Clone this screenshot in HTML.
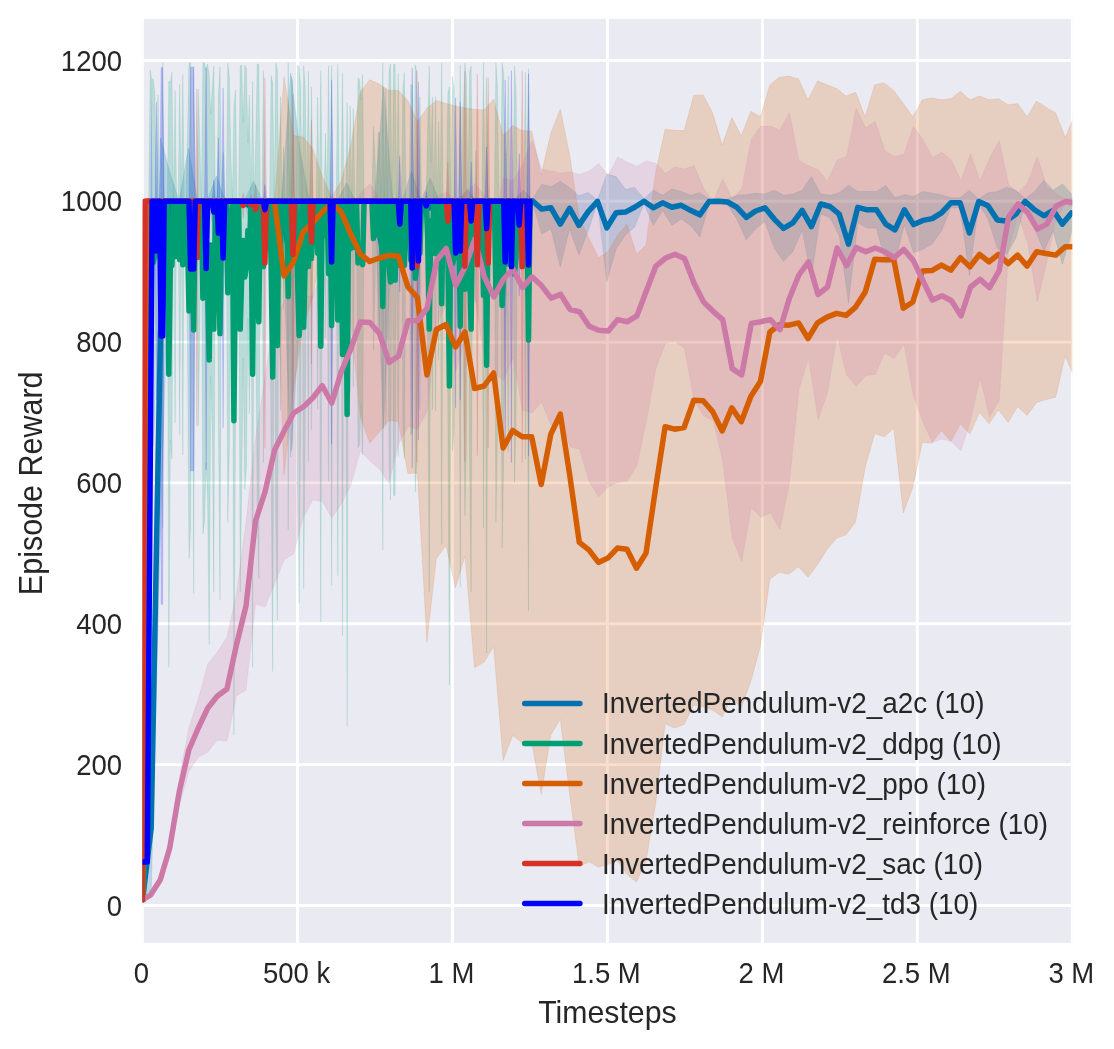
<!DOCTYPE html>
<html lang="en"><head><meta charset="utf-8"><title>InvertedPendulum-v2 Episode Reward</title>
<style>html,body{margin:0;padding:0;background:#fff}svg{display:block}text{font-family:"Liberation Sans",sans-serif;fill:#262626}</style></head><body>
<svg width="1114" height="1049" viewBox="0 0 1114 1049">
<rect width="1114" height="1049" fill="#ffffff"/>
<defs><clipPath id="ax"><rect x="142.5" y="18.9" width="929.8" height="924.0"/></clipPath></defs>
<rect x="142.5" y="18.9" width="929.8" height="924.0" fill="#eaeaf2"/>
<g stroke="#ffffff" stroke-width="2.9" clip-path="url(#ax)"><line x1="142.5" y1="18.9" x2="142.5" y2="942.9"/><line x1="297.5" y1="18.9" x2="297.5" y2="942.9"/><line x1="452.4" y1="18.9" x2="452.4" y2="942.9"/><line x1="607.4" y1="18.9" x2="607.4" y2="942.9"/><line x1="762.4" y1="18.9" x2="762.4" y2="942.9"/><line x1="917.3" y1="18.9" x2="917.3" y2="942.9"/><line x1="1072.3" y1="18.9" x2="1072.3" y2="942.9"/><line x1="142.5" y1="905.5" x2="1072.3" y2="905.5"/><line x1="142.5" y1="764.6" x2="1072.3" y2="764.6"/><line x1="142.5" y1="623.8" x2="1072.3" y2="623.8"/><line x1="142.5" y1="482.9" x2="1072.3" y2="482.9"/><line x1="142.5" y1="342.1" x2="1072.3" y2="342.1"/><line x1="142.5" y1="201.2" x2="1072.3" y2="201.2"/><line x1="142.5" y1="60.4" x2="1072.3" y2="60.4"/></g>
<g clip-path="url(#ax)">
<polygon points="142.5,899.8 151.2,750.0 160.5,138.0 169.8,172.0 179.1,201.3 188.4,148.0 197.7,201.3 207.0,201.3 216.3,176.0 225.6,201.3 234.9,201.3 244.2,201.3 253.5,181.0 262.8,201.3 272.1,201.3 281.4,201.3 290.7,73.0 300.0,150.0 309.3,201.3 318.6,201.3 327.9,201.3 337.2,201.3 346.5,183.0 355.8,201.3 365.1,201.3 374.4,201.3 383.6,87.0 392.9,201.3 402.2,201.3 411.5,171.0 420.8,201.3 430.1,178.0 439.4,201.3 448.7,201.3 458.0,201.3 467.3,189.0 476.6,201.3 485.9,201.3 495.2,201.3 504.5,201.3 513.8,201.3 523.1,190.0 532.4,199.0 541.7,184.2 551.0,186.7 560.3,181.2 569.6,187.6 578.9,195.8 588.2,192.5 597.5,199.9 606.8,174.1 616.1,176.6 625.4,189.2 634.7,187.6 644.0,198.8 653.3,190.0 662.6,195.2 671.9,189.0 681.2,191.5 690.5,195.2 699.8,192.7 709.1,199.0 718.4,199.0 727.7,199.0 737.0,195.2 746.3,194.7 755.6,193.2 764.9,194.0 774.2,190.2 783.5,195.2 792.8,194.0 802.1,190.2 811.4,176.4 820.7,194.0 830.0,195.2 839.2,192.7 848.5,185.2 857.8,191.5 867.1,191.5 876.4,191.5 885.7,185.2 895.0,197.8 904.3,194.7 913.6,196.5 922.9,191.5 932.2,193.2 941.5,194.7 950.8,197.8 960.1,197.8 969.4,190.2 978.7,199.0 988.0,192.7 997.3,191.5 1006.6,187.2 1015.9,190.2 1025.2,199.0 1034.5,191.5 1043.8,180.2 1053.1,190.2 1062.4,183.9 1071.7,194.0 1071.7,231.6 1062.4,264.3 1053.1,230.4 1043.8,251.4 1034.5,228.1 1025.2,204.0 1015.9,238.0 1006.6,254.6 997.3,248.3 988.0,218.9 978.7,204.0 969.4,275.6 960.1,207.8 950.8,207.8 941.5,230.9 932.2,244.0 922.9,249.3 913.6,252.7 904.3,224.9 895.0,262.0 885.7,263.0 876.4,228.1 867.1,228.1 857.8,223.1 848.5,303.2 839.2,235.5 830.0,217.8 820.7,214.0 811.4,277.0 802.1,230.4 792.8,251.8 783.5,261.6 774.2,248.0 764.9,221.6 755.6,228.8 746.3,240.1 737.0,219.4 727.7,205.0 718.4,203.6 709.1,204.0 699.8,236.9 690.5,225.4 681.2,219.1 671.9,225.6 662.6,210.4 653.3,225.6 644.0,203.8 634.7,227.0 625.4,235.0 616.1,249.0 606.8,281.7 597.5,202.7 588.2,230.7 578.9,255.0 569.6,229.0 560.3,267.0 551.0,228.9 541.7,234.0 532.4,202.6 523.1,218.0 513.8,201.3 504.5,201.3 495.2,201.3 485.9,201.3 476.6,201.3 467.3,221.0 458.0,201.3 448.7,201.3 439.4,201.3 430.1,238.0 420.8,201.3 411.5,249.0 402.2,201.3 392.9,201.3 383.6,429.0 374.4,201.3 365.1,201.3 355.8,201.3 346.5,235.0 337.2,201.3 327.9,201.3 318.6,201.3 309.3,201.3 300.0,316.0 290.7,457.0 281.4,201.3 272.1,201.3 262.8,201.3 253.5,239.0 244.2,201.3 234.9,201.3 225.6,201.3 216.3,238.0 207.0,201.3 197.7,201.3 188.4,280.0 179.1,201.3 169.8,230.6 160.5,528.0 151.2,893.0 142.5,899.8" fill="#0072b2" fill-opacity="0.20" stroke="#0072b2" stroke-opacity="0.20" stroke-width="0.6"/>
<polygon points="143.4,899.8 148.0,201.3 148.7,201.2 150.2,70.0 151.8,80.1 153.3,78.9 154.9,94.1 156.4,201.2 158.0,95.0 159.6,201.2 161.1,201.2 162.7,62.8 164.2,201.2 167.3,201.2 168.8,81.3 170.4,81.9 171.9,72.4 173.5,201.2 175.1,90.5 176.6,201.2 178.2,201.2 179.7,84.5 181.2,201.2 182.8,74.4 184.3,201.2 185.9,201.2 187.4,134.5 189.0,63.2 190.6,62.7 192.1,201.2 193.7,66.3 195.2,201.2 196.8,201.2 198.3,89.1 199.8,138.1 201.4,201.2 202.9,62.7 204.5,62.9 206.1,70.4 207.6,64.1 209.2,75.3 210.7,113.9 212.2,87.8 213.8,66.1 215.4,201.2 216.9,201.2 218.4,94.7 220.0,67.1 221.6,201.2 223.1,152.4 224.7,201.2 226.2,201.2 227.8,62.9 229.3,75.8 230.9,156.3 232.4,201.2 233.9,106.7 235.5,89.7 237.1,201.2 238.6,201.2 240.2,66.1 241.7,65.0 243.2,122.7 244.8,65.0 246.4,68.8 247.9,142.7 249.4,95.0 251.0,201.2 252.6,81.3 254.1,201.2 255.7,140.0 257.2,63.8 258.8,64.7 260.3,201.2 261.9,201.2 263.4,70.5 264.9,201.2 269.6,201.2 271.1,75.6 272.7,82.6 274.2,201.2 275.8,62.8 277.4,70.3 278.9,201.2 280.5,96.6 282.0,201.2 283.6,147.3 285.1,201.2 286.6,201.2 288.2,62.7 289.8,201.2 291.3,76.1 292.9,81.0 294.4,201.2 296.0,201.2 297.5,65.0 299.1,67.5 300.6,84.4 302.1,201.2 303.7,65.7 305.2,86.7 306.8,201.2 308.4,71.0 309.9,201.2 311.5,86.9 313.0,201.2 316.1,201.2 317.6,97.2 319.2,201.2 320.8,70.6 322.3,201.2 323.9,201.2 325.4,132.9 327.0,201.2 328.5,65.8 330.1,201.2 331.6,65.3 333.1,201.2 336.2,201.2 337.8,64.4 339.4,201.2 340.9,201.2 342.5,73.3 344.0,201.2 345.6,201.2 347.1,102.7 348.6,201.2 350.2,106.1 351.8,201.2 353.3,108.5 354.9,201.2 356.4,201.2 358.0,77.9 359.5,79.5 361.1,100.2 362.6,74.4 364.1,201.2 371.9,201.2 373.5,126.6 375.0,158.4 376.6,201.2 378.1,133.0 379.6,131.9 381.2,201.2 382.8,62.9 384.3,201.2 385.9,88.7 387.4,201.2 389.0,70.6 390.5,64.0 392.1,201.2 393.6,64.4 395.1,64.4 396.7,201.2 398.2,73.6 399.8,201.2 401.4,201.2 402.9,88.3 404.4,72.6 406.0,201.2 409.1,201.2 410.7,84.2 412.2,85.3 413.8,201.2 415.3,64.7 416.9,72.6 418.4,201.2 419.9,96.8 421.5,201.2 426.2,201.2 427.7,127.2 429.2,66.1 430.8,162.5 432.4,97.0 433.9,201.2 435.4,96.3 437.0,201.2 438.6,121.8 440.1,201.2 441.7,62.8 443.2,201.2 446.3,201.2 447.9,92.4 449.4,86.9 450.9,201.2 452.5,76.3 454.1,87.4 455.6,201.2 458.7,201.2 460.2,65.5 461.8,201.2 463.4,105.8 464.9,63.1 466.4,79.0 468.0,201.2 469.6,71.4 471.1,66.1 472.7,201.2 474.2,201.2 475.8,150.6 477.3,201.2 481.9,201.2 483.5,62.7 485.1,201.2 486.6,77.5 488.2,201.2 494.4,201.2 495.9,62.9 497.4,84.5 499.0,201.2 500.6,201.2 502.1,62.8 503.7,73.5 505.2,152.7 506.8,154.8 508.3,76.0 509.9,201.2 513.0,201.2 514.5,65.7 516.0,89.0 517.6,201.2 523.8,201.2 525.4,72.4 526.9,201.2 528.5,68.7 530.0,201.2 530.0,201.2 528.5,611.1 526.9,201.2 525.4,459.0 523.8,201.2 517.6,201.2 516.0,425.7 514.5,482.4 513.0,201.2 509.9,201.2 508.3,451.7 506.8,294.2 505.2,298.4 503.7,456.8 502.1,548.2 500.6,201.2 499.0,201.2 497.4,434.7 495.9,522.2 494.4,201.2 488.2,201.2 486.6,653.1 485.1,201.2 483.5,528.3 481.9,201.2 477.3,201.2 475.8,302.5 474.2,201.2 472.7,201.2 471.1,592.1 469.6,461.0 468.0,201.2 466.4,445.8 464.9,515.6 463.4,392.2 461.8,201.2 460.2,587.1 458.7,201.2 455.6,201.2 454.1,429.0 452.5,451.1 450.9,201.2 449.4,685.1 447.9,419.0 446.3,201.2 443.2,201.2 441.7,544.6 440.1,201.2 438.6,360.1 437.0,201.2 435.4,411.1 433.9,201.2 432.4,409.7 430.8,278.7 429.2,592.1 427.7,349.3 426.2,201.2 421.5,201.2 419.9,410.1 418.4,201.2 416.9,458.6 415.3,491.9 413.8,201.2 412.2,433.1 410.7,435.3 409.1,201.2 406.0,201.2 404.4,458.5 402.9,427.2 401.4,201.2 399.8,201.2 398.2,456.6 396.7,201.2 395.1,495.8 393.6,495.3 392.1,201.2 390.5,500.0 389.0,462.6 387.4,201.2 385.9,426.3 384.3,201.2 382.8,549.9 381.2,201.2 379.6,339.9 378.1,337.8 376.6,201.2 375.0,287.0 373.5,350.6 371.9,201.2 364.1,201.2 362.6,455.0 361.1,403.4 359.5,444.8 358.0,447.8 356.4,201.2 354.9,201.2 353.3,386.8 351.8,201.2 350.2,391.6 348.6,201.2 347.1,726.3 345.6,201.2 344.0,201.2 342.5,635.5 340.9,201.2 339.4,201.2 337.8,575.6 336.2,201.2 333.1,201.2 331.6,585.5 330.1,201.2 328.5,481.8 327.0,201.2 325.4,338.0 323.9,201.2 322.3,201.2 320.8,622.0 319.2,201.2 317.6,409.3 316.1,201.2 313.0,201.2 311.5,429.8 309.9,201.2 308.4,461.7 306.8,201.2 305.2,430.4 303.7,588.7 302.1,201.2 300.6,435.0 299.1,603.3 297.5,488.8 296.0,201.2 294.4,201.2 292.9,441.8 291.3,451.5 289.8,201.2 288.2,530.1 286.6,201.2 285.1,201.2 283.6,309.1 282.0,201.2 280.5,410.6 278.9,201.2 277.4,620.5 275.8,523.5 274.2,201.2 272.7,671.6 271.1,452.6 269.6,201.2 264.9,201.2 263.4,462.8 261.9,201.2 260.3,201.2 258.8,578.9 257.2,503.4 255.7,323.8 254.1,201.2 252.6,667.3 251.0,201.2 249.4,413.7 247.9,318.4 246.4,466.2 244.8,489.3 243.2,358.4 241.7,489.1 240.2,592.1 238.6,201.2 237.1,201.2 235.5,424.4 233.9,734.9 232.4,201.2 230.9,291.2 229.3,452.2 227.8,522.7 226.2,201.2 224.7,201.2 223.1,299.0 221.6,201.2 220.0,600.1 218.4,414.3 216.9,201.2 215.4,201.2 213.8,592.1 212.2,428.2 210.7,375.9 209.2,644.5 207.6,499.0 206.1,462.9 204.5,521.8 202.9,533.9 201.4,201.2 199.8,327.5 198.3,425.6 196.8,201.2 195.2,201.2 193.7,593.7 192.1,201.2 190.6,529.1 189.0,558.6 187.4,334.8 185.9,201.2 184.3,201.2 182.8,455.0 181.2,201.2 179.7,434.7 178.2,201.2 176.6,201.2 175.1,422.8 173.5,201.2 171.9,459.0 170.4,440.0 168.8,667.3 167.3,201.2 164.2,201.2 162.7,527.5 161.1,201.2 159.6,201.2 158.0,413.7 156.4,201.2 154.9,415.4 153.3,446.0 151.8,443.5 150.2,463.7 148.7,201.2 148.0,201.3 143.4,899.8" fill="#009e73" fill-opacity="0.20" stroke="#009e73" stroke-opacity="0.20" stroke-width="0.6"/>
<polygon points="142.5,899.8 146.6,201.3 150.6,201.3 160.2,201.3 169.7,201.3 179.2,201.3 188.7,201.3 198.3,201.3 207.8,201.3 217.3,201.3 226.8,201.3 236.4,201.3 245.9,201.3 255.4,201.3 265.0,201.3 274.5,201.3 284.0,76.6 293.5,135.6 303.1,136.9 312.6,148.2 322.1,175.8 331.6,197.2 341.2,180.9 350.7,146.0 360.2,92.0 369.7,79.8 379.3,84.1 388.8,90.4 398.3,90.4 407.9,100.5 417.4,122.0 426.9,108.0 436.4,100.4 446.0,103.5 455.5,106.0 465.0,108.0 474.5,109.2 484.1,110.0 493.6,99.2 503.1,135.6 512.7,125.6 522.2,130.6 531.7,131.1 541.2,174.6 550.8,133.1 560.3,109.2 569.8,155.7 579.3,218.0 588.9,238.0 598.4,257.6 607.9,251.8 617.4,235.4 627.0,224.1 636.5,254.3 646.0,245.0 655.6,172.6 665.1,129.3 674.6,130.3 684.1,130.6 693.7,95.4 703.2,94.9 712.7,113.0 722.2,145.1 731.8,117.6 741.3,135.7 750.8,111.2 760.4,116.8 769.9,84.8 779.4,77.2 788.9,76.1 798.5,79.1 808.0,99.8 817.5,81.0 827.0,84.8 836.6,88.5 846.1,96.1 855.6,92.3 865.2,116.8 874.7,84.8 884.2,82.9 893.7,90.4 903.3,103.6 912.8,116.8 922.3,99.8 931.8,98.0 941.4,99.8 950.9,98.7 960.4,91.2 969.9,99.8 979.5,96.1 989.0,99.8 998.5,98.7 1008.1,104.7 1017.6,103.6 1027.1,116.8 1036.6,101.0 1046.2,107.4 1055.7,113.0 1065.2,137.5 1074.7,115.0 1074.7,378.6 1065.2,356.1 1055.7,397.2 1046.2,399.6 1036.6,402.6 1027.1,415.4 1017.6,406.6 1008.1,422.5 998.5,409.9 989.0,423.8 979.5,412.5 969.9,434.0 960.4,424.0 950.9,441.5 941.4,430.4 931.8,443.2 922.3,442.4 912.8,487.2 903.3,513.0 893.7,428.2 884.2,436.7 874.7,433.8 865.2,467.2 855.6,521.9 846.1,534.7 836.6,538.3 827.0,549.4 817.5,564.8 808.0,577.2 798.5,566.7 788.9,574.3 779.4,572.2 769.9,579.2 760.4,646.2 750.8,681.8 741.3,707.7 731.8,698.2 722.2,716.9 712.7,710.2 703.2,706.7 693.7,705.2 684.1,724.4 674.6,728.1 665.1,724.1 655.6,804.0 646.0,861.2 636.5,882.1 627.0,874.5 617.4,860.8 607.9,864.4 598.4,867.2 588.9,861.8 579.3,866.6 569.8,795.7 560.3,719.0 550.8,735.3 541.2,794.4 531.7,742.5 522.2,743.0 512.7,735.4 503.1,760.4 493.6,646.8 484.1,662.0 474.5,667.8 465.0,556.0 455.5,588.0 446.0,545.5 436.4,558.6 426.9,642.0 417.4,473.0 407.9,473.5 398.3,421.6 388.8,420.6 379.3,431.9 369.7,443.2 360.2,416.0 350.7,322.0 341.2,243.1 331.6,209.8 322.1,248.2 312.6,297.8 303.1,327.1 293.5,388.4 284.0,475.4 274.5,201.3 265.0,201.3 255.4,201.3 245.9,201.3 236.4,201.3 226.8,201.3 217.3,201.3 207.8,201.3 198.3,201.3 188.7,201.3 179.2,201.3 169.7,201.3 160.2,201.3 150.6,201.3 146.6,201.3 142.5,899.8" fill="#d55e00" fill-opacity="0.20" stroke="#d55e00" stroke-opacity="0.20" stroke-width="0.6"/>
<polygon points="142.5,899.8 150.6,895.0 160.2,878.0 169.7,838.0 179.2,778.0 188.8,728.0 198.3,699.0 207.8,664.0 217.4,652.0 226.9,637.0 236.4,594.0 246.0,522.0 255.5,438.0 265.0,377.0 274.6,316.0 284.1,302.0 293.6,272.0 303.2,296.0 312.7,296.0 322.2,270.0 331.8,288.0 341.3,239.0 350.8,213.0 360.4,193.0 369.9,184.0 379.5,198.0 389.0,242.0 398.5,268.0 408.1,215.0 417.6,212.0 427.1,205.0 436.7,196.0 446.2,192.0 455.7,200.0 465.3,195.0 474.8,183.3 484.3,195.0 493.9,221.0 503.4,178.0 512.9,181.0 522.5,165.0 532.0,140.5 541.5,169.0 551.1,171.0 560.6,173.0 570.1,172.0 579.7,174.5 589.2,171.0 598.7,163.8 608.3,175.0 617.8,157.0 627.3,162.3 636.9,166.3 646.4,161.0 655.9,163.5 665.5,173.3 675.0,167.0 684.5,169.0 694.1,165.8 703.6,188.0 713.1,202.0 722.7,179.0 732.2,199.0 741.7,188.5 751.3,139.4 760.8,126.2 770.3,126.2 779.9,130.0 789.4,113.0 798.9,160.2 808.5,165.8 818.0,169.6 827.5,180.9 837.1,160.2 846.6,156.4 856.2,108.5 865.7,128.1 875.2,121.3 884.8,150.7 894.3,156.4 903.8,154.5 913.4,126.2 922.9,139.4 932.4,157.5 942.0,152.6 951.5,160.2 961.0,180.9 970.6,153.8 980.1,180.9 989.6,158.3 999.2,140.6 1008.7,185.0 1018.2,192.8 1027.8,182.5 1037.3,156.5 1046.8,186.5 1056.4,194.0 1065.9,199.2 1075.4,197.0 1075.4,209.0 1065.9,203.8 1056.4,217.6 1046.8,261.7 1037.3,301.9 1027.8,243.1 1018.2,215.2 1008.7,248.2 999.2,400.6 989.6,417.1 980.1,377.9 970.6,420.2 961.0,450.9 951.5,441.4 942.0,439.0 932.4,442.5 922.9,422.0 913.4,395.0 903.8,344.1 894.3,358.8 884.8,352.9 875.2,374.7 865.7,375.5 856.2,386.5 846.6,374.8 837.1,335.8 827.5,393.1 818.0,419.4 808.5,357.8 798.9,389.8 789.4,483.6 779.9,529.4 770.3,513.0 760.8,517.2 751.3,507.4 741.7,561.3 732.2,538.2 722.7,460.2 713.1,420.6 703.6,416.0 694.1,400.6 684.5,348.2 675.0,341.6 665.5,342.9 655.9,368.7 646.4,420.4 636.9,465.5 627.3,481.1 617.8,482.2 608.3,487.0 598.7,496.8 589.2,481.6 579.7,449.3 570.1,447.0 560.6,415.8 551.1,425.2 541.5,402.2 532.0,413.1 522.5,410.2 512.9,357.4 503.4,380.6 493.9,372.8 484.3,358.6 474.8,294.9 465.3,338.4 455.7,371.2 446.2,304.8 436.7,324.8 427.1,411.4 417.6,429.0 408.1,426.4 398.5,444.0 389.0,483.0 379.5,469.0 369.9,461.0 360.4,451.0 350.8,485.0 341.3,504.0 331.8,518.0 322.2,501.2 312.7,500.0 303.2,518.0 293.6,554.0 284.1,560.0 274.6,584.0 265.0,607.0 255.5,604.0 246.0,690.0 236.4,696.0 226.9,741.0 217.4,740.0 207.8,752.0 198.3,757.0 188.8,772.0 179.2,806.0 169.7,858.0 160.2,882.0 150.6,895.0 142.5,899.8" fill="#cc79a7" fill-opacity="0.20" stroke="#cc79a7" stroke-opacity="0.20" stroke-width="0.6"/>
<polygon points="142.4,899.8 144.9,201.3 195.2,201.2 196.8,88.7 198.3,201.2 241.7,201.2 243.2,192.8 244.8,201.2 249.4,201.2 251.0,194.7 252.6,201.2 254.1,201.2 255.7,184.7 257.2,201.2 263.4,201.2 264.9,77.8 266.5,201.2 291.3,201.2 292.9,94.7 294.4,201.2 309.9,201.2 311.5,119.8 313.0,201.2 415.3,201.2 416.9,70.5 418.4,201.2 446.3,201.2 447.9,161.7 449.4,201.2 463.4,201.2 464.9,71.1 466.4,201.2 475.8,201.2 477.3,74.1 478.9,201.2 486.6,201.2 488.2,77.8 489.7,201.2 520.7,201.2 522.2,70.5 523.8,201.2 530.0,201.2 530.0,201.2 523.8,201.2 522.2,462.6 520.7,201.2 489.7,201.2 488.2,448.2 486.6,201.2 478.9,201.2 477.3,455.5 475.8,201.2 466.4,201.2 464.9,461.4 463.4,201.2 449.4,201.2 447.9,280.2 446.3,201.2 418.4,201.2 416.9,462.6 415.3,201.2 313.0,201.2 311.5,364.2 309.9,201.2 294.4,201.2 292.9,414.2 291.3,201.2 266.5,201.2 264.9,448.2 263.4,201.2 257.2,201.2 255.7,234.2 254.1,201.2 252.6,201.2 251.0,214.2 249.4,201.2 244.8,201.2 243.2,218.2 241.7,201.2 198.3,201.2 196.8,426.2 195.2,201.2 144.9,201.3 142.4,899.8" fill="#d73027" fill-opacity="0.20" stroke="#d73027" stroke-opacity="0.20" stroke-width="0.6"/>
<polygon points="142.5,862.0 147.3,862.0 152.2,201.3 154.9,201.2 156.4,101.8 158.0,201.2 159.6,201.2 161.1,67.7 162.7,67.7 164.2,201.2 189.0,201.2 190.6,67.2 193.7,67.2 195.2,201.2 204.5,201.2 206.1,67.3 207.6,201.2 212.2,201.2 213.8,179.8 215.4,201.2 216.9,201.2 218.4,137.7 220.0,201.2 221.6,201.2 223.1,87.8 224.7,201.2 263.4,201.2 264.9,184.5 266.5,201.2 330.1,201.2 331.6,79.8 333.1,201.2 398.2,201.2 399.8,155.8 401.4,201.2 410.7,201.2 412.2,67.7 413.8,201.2 416.9,201.2 418.4,81.8 419.9,201.2 424.6,201.2 426.2,191.8 427.7,201.2 454.1,201.2 455.6,97.8 457.2,201.2 458.7,201.2 460.2,101.8 461.8,201.2 469.6,201.2 471.1,161.7 472.7,201.2 485.1,201.2 486.6,146.8 488.2,201.2 503.7,201.2 505.2,79.8 506.8,201.2 509.9,201.2 511.4,70.5 513.0,201.2 517.6,201.2 519.2,153.8 520.7,201.2 526.9,201.2 528.5,73.8 530.0,201.2 530.0,201.2 528.5,456.2 526.9,201.2 520.7,201.2 519.2,296.2 517.6,201.2 513.0,201.2 511.4,462.6 509.9,201.2 506.8,201.2 505.2,444.2 503.7,201.2 488.2,201.2 486.6,310.2 485.1,201.2 472.7,201.2 471.1,280.2 469.6,201.2 461.8,201.2 460.2,400.2 458.7,201.2 457.2,201.2 455.6,408.2 454.1,201.2 427.7,201.2 426.2,220.2 424.6,201.2 419.9,201.2 418.4,440.2 416.9,201.2 413.8,201.2 412.2,468.2 410.7,201.2 401.4,201.2 399.8,292.2 398.2,201.2 333.1,201.2 331.6,444.2 330.1,201.2 266.5,201.2 264.9,234.6 263.4,201.2 224.7,201.2 223.1,428.2 221.6,201.2 220.0,201.2 218.4,328.2 216.9,201.2 215.4,201.2 213.8,244.2 212.2,201.2 207.6,201.2 206.1,469.7 204.5,201.2 195.2,201.2 193.7,470.8 190.6,470.8 189.0,201.2 164.2,201.2 162.7,604.3 161.1,604.3 159.6,201.2 158.0,201.2 156.4,400.2 154.9,201.2 152.2,201.3 147.3,862.0 142.5,862.0" fill="#0000ff" fill-opacity="0.20" stroke="#0000ff" stroke-opacity="0.20" stroke-width="0.6"/>
<polygon points="150.4,201.3 151.4,80 152.5,201.3 151.6,330" fill="#0000ff" fill-opacity="0.20"/>
</g>
<g clip-path="url(#ax)" fill="none" stroke-width="5.50" stroke-linejoin="round" stroke-linecap="round">
<polyline points="142.5,899.8 151.2,828.0 160.5,333.0 169.8,201.3 179.1,201.3 188.4,214.0 197.7,201.3 207.0,201.3 216.3,207.0 225.6,201.3 234.9,201.3 244.2,201.3 253.5,210.0 262.8,201.3 272.1,201.3 281.4,201.3 290.7,265.0 300.0,233.0 309.3,201.3 318.6,201.3 327.9,201.3 337.2,201.3 346.5,209.0 355.8,201.3 365.1,201.3 374.4,201.3 383.6,258.0 392.9,201.3 402.2,201.3 411.5,210.0 420.8,201.3 430.1,208.0 439.4,201.3 448.7,201.3 458.0,201.3 467.3,205.0 476.6,201.3 485.9,201.3 495.2,201.3 504.5,201.3 513.8,201.3 523.1,204.0 532.4,200.8 541.7,209.1 551.0,207.8 560.3,224.1 569.6,208.3 578.9,225.4 588.2,211.6 597.5,201.3 606.8,227.9 616.1,212.8 625.4,212.1 634.7,207.3 644.0,201.3 653.3,207.8 662.6,202.8 671.9,207.3 681.2,205.3 690.5,210.3 699.8,214.8 709.1,201.5 718.4,201.3 727.7,202.0 737.0,207.3 746.3,217.4 755.6,211.0 764.9,207.8 774.2,219.1 783.5,228.4 792.8,222.9 802.1,210.3 811.4,226.7 820.7,204.0 830.0,206.5 839.2,214.1 848.5,244.2 857.8,207.3 867.1,209.8 876.4,209.8 885.7,224.1 895.0,229.9 904.3,209.8 913.6,224.6 922.9,220.4 932.2,218.6 941.5,212.8 950.8,202.8 960.1,202.8 969.4,232.9 978.7,201.5 988.0,205.8 997.3,219.9 1006.6,220.9 1015.9,214.1 1025.2,201.5 1034.5,209.8 1043.8,215.8 1053.1,210.3 1062.4,224.1 1071.7,212.8" stroke="#0072b2"/>
<polyline points="143.4,899.8 148.0,201.3 148.7,201.2 150.2,266.9 151.8,261.8 153.3,262.4 154.9,254.8 156.4,201.2 158.0,254.4 159.6,201.2 161.1,201.2 162.7,295.2 164.2,201.2 167.3,201.2 168.8,374.3 170.4,260.9 171.9,265.7 173.5,201.2 175.1,256.6 176.6,201.2 178.2,201.2 179.7,259.6 181.2,201.2 182.8,264.7 184.3,201.2 185.9,201.2 187.4,234.6 189.0,310.9 190.6,295.9 192.1,201.2 193.7,330.0 195.2,201.2 196.8,201.2 198.3,257.3 199.8,232.8 201.4,201.2 202.9,298.3 204.5,292.3 206.1,266.7 207.6,281.5 209.2,359.9 210.7,244.9 212.2,258.0 213.8,329.1 215.4,201.2 216.9,201.2 218.4,254.5 220.0,333.6 221.6,201.2 223.1,225.7 224.7,201.2 226.2,201.2 227.8,292.8 229.3,264.0 230.9,223.7 232.4,201.2 233.9,420.8 235.5,257.0 237.1,201.2 238.6,201.2 240.2,329.1 241.7,277.1 243.2,240.5 244.8,277.1 246.4,267.5 247.9,230.5 249.4,254.4 251.0,201.2 252.6,374.3 254.1,201.2 255.7,231.9 257.2,283.6 258.8,321.8 260.3,201.2 261.9,201.2 263.4,266.6 264.9,201.2 269.6,201.2 271.1,264.1 272.7,377.1 274.2,201.2 275.8,293.2 277.4,345.4 278.9,201.2 280.5,253.6 282.0,201.2 283.6,228.2 285.1,201.2 286.6,201.2 288.2,296.4 289.8,201.2 291.3,263.8 292.9,261.4 294.4,201.2 296.0,201.2 297.5,276.9 299.1,335.4 300.6,259.7 302.1,201.2 303.7,327.2 305.2,258.5 306.8,201.2 308.4,266.4 309.9,201.2 311.5,258.4 313.0,201.2 316.1,201.2 317.6,253.3 319.2,201.2 320.8,346.3 322.3,201.2 323.9,201.2 325.4,235.4 327.0,201.2 328.5,273.8 330.1,201.2 331.6,325.4 333.1,201.2 336.2,201.2 337.8,320.0 339.4,201.2 340.9,201.2 342.5,354.4 344.0,201.2 345.6,201.2 347.1,414.5 348.6,201.2 350.2,248.8 351.8,201.2 353.3,247.6 354.9,201.2 356.4,201.2 358.0,262.9 359.5,262.1 361.1,251.8 362.6,264.7 364.1,201.2 371.9,201.2 373.5,238.6 375.0,222.7 376.6,201.2 378.1,235.4 379.6,235.9 381.2,201.2 382.8,306.4 384.3,201.2 385.9,257.5 387.4,201.2 389.0,266.6 390.5,282.0 392.1,201.2 393.6,279.8 395.1,280.1 396.7,201.2 398.2,265.1 399.8,201.2 401.4,201.2 402.9,257.7 404.4,265.6 406.0,201.2 409.1,201.2 410.7,259.8 412.2,259.2 413.8,201.2 415.3,278.3 416.9,265.6 418.4,201.2 419.9,253.5 421.5,201.2 426.2,201.2 427.7,238.3 429.2,329.1 430.8,220.6 432.4,253.4 433.9,201.2 435.4,253.7 437.0,201.2 438.6,241.0 440.1,201.2 441.7,303.7 443.2,201.2 446.3,201.2 447.9,255.7 449.4,386.0 450.9,201.2 452.5,263.7 454.1,258.2 455.6,201.2 458.7,201.2 460.2,326.3 461.8,201.2 463.4,249.0 464.9,289.3 466.4,262.4 468.0,201.2 469.6,266.2 471.1,329.1 472.7,201.2 474.2,201.2 475.8,226.6 477.3,201.2 481.9,201.2 483.5,295.5 485.1,201.2 486.6,365.3 488.2,201.2 494.4,201.2 495.9,292.5 497.4,259.6 499.0,201.2 500.6,201.2 502.1,305.5 503.7,265.1 505.2,225.5 506.8,224.5 508.3,263.9 509.9,201.2 513.0,201.2 514.5,274.1 516.0,257.4 517.6,201.2 523.8,201.2 525.4,265.7 526.9,201.2 528.5,339.9 530.0,201.2" stroke="#009e73"/>
<polyline points="142.5,899.8 146.6,201.3 150.6,201.3 160.2,201.3 169.7,201.3 179.2,201.3 188.7,201.3 198.3,201.3 207.8,201.3 217.3,201.3 226.8,201.3 236.4,201.3 245.9,201.3 255.4,201.3 265.0,201.3 274.5,201.3 284.0,276.0 293.5,262.0 303.1,232.0 312.6,223.0 322.1,212.0 331.6,203.5 341.2,212.0 350.7,234.0 360.2,254.0 369.7,261.5 379.3,258.0 388.8,255.5 398.3,256.0 407.9,287.0 417.4,297.5 426.9,375.0 436.4,329.5 446.0,324.5 455.5,347.0 465.0,332.0 474.5,388.5 484.1,386.0 493.6,373.0 503.1,448.0 512.7,430.5 522.2,436.8 531.7,436.8 541.2,484.5 550.8,434.2 560.3,414.1 569.8,475.7 579.3,542.3 588.9,549.9 598.4,562.4 607.9,558.1 617.4,548.1 627.0,549.3 636.5,568.2 646.0,553.1 655.6,488.3 665.1,426.7 674.6,429.2 684.1,427.5 693.7,400.3 703.2,400.8 712.7,411.6 722.2,431.0 731.8,407.9 741.3,421.7 750.8,396.5 760.4,381.5 769.9,332.0 779.4,324.7 788.9,325.2 798.5,322.9 808.0,338.5 817.5,322.9 827.0,317.1 836.6,313.4 846.1,315.4 855.6,307.1 865.2,292.0 874.7,259.3 884.2,259.8 893.7,259.3 903.3,308.3 912.8,302.0 922.3,271.1 931.8,270.6 941.4,265.1 950.9,270.1 960.4,257.6 969.9,266.9 979.5,254.3 989.0,261.8 998.5,254.3 1008.1,263.6 1017.6,255.1 1027.1,266.1 1036.6,251.8 1046.2,253.5 1055.7,255.1 1065.2,246.8 1074.7,246.8" stroke="#d55e00"/>
<polyline points="142.5,899.8 150.6,895.0 160.2,880.0 169.7,848.0 179.2,792.0 188.8,750.0 198.3,728.0 207.8,708.0 217.4,696.0 226.9,689.0 236.4,645.0 246.0,606.0 255.5,521.0 265.0,492.0 274.6,450.0 284.1,431.0 293.6,413.0 303.2,407.0 312.7,398.0 322.2,385.6 331.8,403.0 341.3,371.5 350.8,349.0 360.4,322.0 369.9,322.5 379.5,333.5 389.0,362.5 398.5,356.0 408.1,320.7 417.6,320.5 427.1,308.2 436.7,260.4 446.2,248.4 455.7,285.6 465.3,266.7 474.8,239.1 484.3,276.8 493.9,296.9 503.4,279.3 512.9,269.2 522.5,287.6 532.0,276.8 541.5,285.6 551.1,298.1 560.6,294.4 570.1,309.5 579.7,311.9 589.2,326.3 598.7,330.3 608.3,331.0 617.8,319.6 627.3,321.7 636.9,315.9 646.4,290.7 655.9,266.1 665.5,258.1 675.0,254.3 684.5,258.6 694.1,283.2 703.6,302.0 713.1,311.3 722.7,319.6 732.2,368.6 741.7,374.9 751.3,323.4 760.8,321.7 770.3,319.6 779.9,329.7 789.4,298.3 798.9,275.0 808.5,261.8 818.0,294.5 827.5,287.0 837.1,248.0 846.6,265.6 856.2,247.5 865.7,251.8 875.2,248.0 884.8,251.8 894.3,257.6 903.8,249.3 913.4,260.6 922.9,280.7 932.4,300.0 942.0,295.8 951.5,300.8 961.0,315.9 970.6,287.0 980.1,279.4 989.6,287.7 999.2,270.6 1008.7,216.6 1018.2,204.0 1027.8,212.8 1037.3,229.2 1046.8,224.1 1056.4,205.8 1065.9,201.5 1075.4,203.0" stroke="#cc79a7"/>
<polyline points="142.4,899.8 144.9,201.3 195.2,201.2 196.8,257.5 198.3,201.2 241.7,201.2 243.2,205.5 244.8,201.2 249.4,201.2 251.0,204.5 252.6,201.2 254.1,201.2 255.7,209.5 257.2,201.2 263.4,201.2 264.9,263.0 266.5,201.2 291.3,201.2 292.9,254.5 294.4,201.2 309.9,201.2 311.5,242.0 313.0,201.2 415.3,201.2 416.9,266.6 418.4,201.2 446.3,201.2 447.9,221.0 449.4,201.2 463.4,201.2 464.9,266.3 466.4,201.2 475.8,201.2 477.3,264.8 478.9,201.2 486.6,201.2 488.2,263.0 489.7,201.2 520.7,201.2 522.2,266.6 523.8,201.2 530.0,201.2" stroke="#d73027"/>
<polyline points="142.5,862.0 147.3,862.0 152.2,201.3 154.9,201.2 156.4,251.0 158.0,201.2 159.6,201.2 161.1,336.0 162.7,336.0 164.2,201.2 189.0,201.2 190.6,269.0 193.7,269.0 195.2,201.2 204.5,201.2 206.1,268.5 207.6,201.2 212.2,201.2 213.8,212.0 215.4,201.2 216.9,201.2 218.4,233.0 220.0,201.2 221.6,201.2 223.1,258.0 224.7,201.2 263.4,201.2 264.9,209.6 266.5,201.2 330.1,201.2 331.6,262.0 333.1,201.2 398.2,201.2 399.8,224.0 401.4,201.2 410.7,201.2 412.2,268.0 413.8,201.2 416.9,201.2 418.4,261.0 419.9,201.2 424.6,201.2 426.2,206.0 427.7,201.2 454.1,201.2 455.6,253.0 457.2,201.2 458.7,201.2 460.2,251.0 461.8,201.2 469.6,201.2 471.1,221.0 472.7,201.2 485.1,201.2 486.6,228.5 488.2,201.2 503.7,201.2 505.2,262.0 506.8,201.2 509.9,201.2 511.4,266.6 513.0,201.2 517.6,201.2 519.2,225.0 520.7,201.2 526.9,201.2 528.5,265.0 530.0,201.2" stroke="#0000ff"/>
</g>
<text transform="translate(122.0,915.7) scale(1,1.045)" font-size="27.5" text-anchor="end">0</text>
<text transform="translate(122.0,774.9) scale(1,1.045)" font-size="27.5" text-anchor="end">200</text>
<text transform="translate(122.0,634.0) scale(1,1.045)" font-size="27.5" text-anchor="end">400</text>
<text transform="translate(122.0,493.1) scale(1,1.045)" font-size="27.5" text-anchor="end">600</text>
<text transform="translate(122.0,352.3) scale(1,1.045)" font-size="27.5" text-anchor="end">800</text>
<text transform="translate(122.0,211.4) scale(1,1.045)" font-size="27.5" text-anchor="end">1000</text>
<text transform="translate(122.0,70.6) scale(1,1.045)" font-size="27.5" text-anchor="end">1200</text>
<text transform="translate(141.5,982.8) scale(1,1.045)" font-size="27.5" text-anchor="middle">0</text>
<text transform="translate(296.5,982.8) scale(1,1.045)" font-size="27.5" text-anchor="middle">500 k</text>
<text transform="translate(451.4,982.8) scale(1,1.045)" font-size="27.5" text-anchor="middle">1 M</text>
<text transform="translate(606.4,982.8) scale(1,1.045)" font-size="27.5" text-anchor="middle">1.5 M</text>
<text transform="translate(761.4,982.8) scale(1,1.045)" font-size="27.5" text-anchor="middle">2 M</text>
<text transform="translate(916.3,982.8) scale(1,1.045)" font-size="27.5" text-anchor="middle">2.5 M</text>
<text transform="translate(1071.3,982.8) scale(1,1.045)" font-size="27.5" text-anchor="middle">3 M</text>
<text transform="translate(607.4,1023.2) scale(1,1.045)" font-size="30.25" text-anchor="middle">Timesteps</text>
<text transform="translate(41.9,483.3) rotate(-90) scale(1,1.092)" font-size="30.5" text-anchor="middle">Episode Reward</text>
<g stroke-width="5.50" stroke-linecap="round">
<line x1="524.7" y1="703.6" x2="579.9" y2="703.6" stroke="#0072b2"/>
<line x1="524.7" y1="743.6" x2="579.9" y2="743.6" stroke="#009e73"/>
<line x1="524.7" y1="783.6" x2="579.9" y2="783.6" stroke="#d55e00"/>
<line x1="524.7" y1="823.6" x2="579.9" y2="823.6" stroke="#cc79a7"/>
<line x1="524.7" y1="863.6" x2="579.9" y2="863.6" stroke="#d73027"/>
<line x1="524.7" y1="903.6" x2="579.9" y2="903.6" stroke="#0000ff"/>
</g>
<text transform="translate(601.9,713.4) scale(1,1.045)" font-size="27.87" text-anchor="start">InvertedPendulum-v2_a2c (10)</text>
<text transform="translate(601.9,753.5) scale(1,1.045)" font-size="27.87" text-anchor="start">InvertedPendulum-v2_ddpg (10)</text>
<text transform="translate(601.9,793.6) scale(1,1.045)" font-size="27.87" text-anchor="start">InvertedPendulum-v2_ppo (10)</text>
<text transform="translate(601.9,833.7) scale(1,1.045)" font-size="27.87" text-anchor="start">InvertedPendulum-v2_reinforce (10)</text>
<text transform="translate(601.9,873.8) scale(1,1.045)" font-size="27.87" text-anchor="start">InvertedPendulum-v2_sac (10)</text>
<text transform="translate(601.9,913.9) scale(1,1.045)" font-size="27.87" text-anchor="start">InvertedPendulum-v2_td3 (10)</text>
</svg></body></html>
